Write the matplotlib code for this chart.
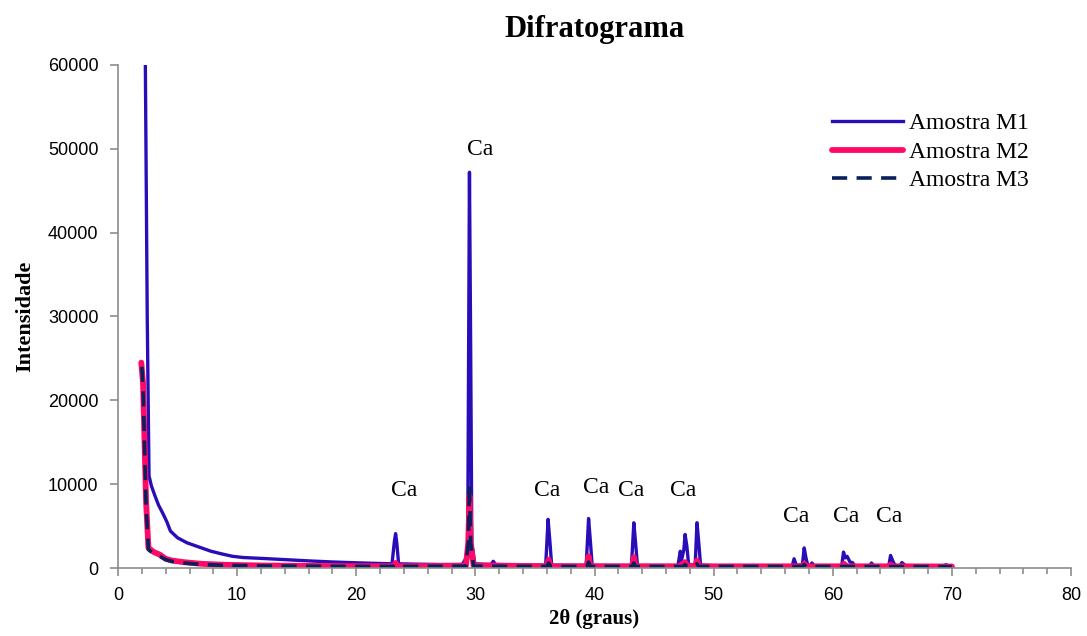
import matplotlib.pyplot as plt
from matplotlib.ticker import MultipleLocator

# Amostra M1
x_m1 = [2.25, 2.45, 2.6, 2.8, 3.1, 3.4, 3.8, 4.1, 4.4, 5.0, 5.8, 6.8, 7.8, 8.8, 9.6,
        10.5, 12, 14, 16, 18, 20, 22, 23.0, 23.2, 23.3, 23.4, 23.55, 25, 27, 28.9,
        29.35, 29.5, 29.6, 29.7, 29.95, 31.3, 31.5, 31.7, 33, 35.9, 36.1, 36.25, 36.4,
        39.3, 39.5, 39.65, 39.8, 43.1, 43.3, 43.45, 43.6, 47.0, 47.2, 47.3, 47.5,
        47.6, 47.75, 47.9, 48.45, 48.6, 48.75, 48.9, 50, 56.6, 56.75, 56.95, 57.45, 57.6,
        57.75, 57.9, 58.1, 58.25, 58.45, 60.75, 60.9, 61.05, 61.2, 61.45, 61.65, 61.85, 63.1,
        63.25, 63.45, 64.7, 64.85, 65.05, 65.25, 65.65, 65.8, 66.05, 66.25, 69.3, 69.5, 69.7,
        70.0]
y_m1 = [68000, 30000, 11000, 9800, 8600, 7500, 6400, 5500, 4400, 3600, 3000, 2500, 2000,
        1650, 1400, 1250, 1150, 1000, 850, 720, 620, 540, 500, 3200, 4100, 3000, 500, 460,
        420, 430, 1500, 47200, 26500, 3000, 500, 420, 800, 400, 360, 340, 5800, 3200, 340,
        320, 5900, 3200, 320, 300, 5400, 2900, 300, 290, 2000, 900, 2200, 4000, 2600, 400,
        350, 5400, 3000, 350, 280, 260, 1100, 300, 400, 2400, 1200, 300, 300, 600, 250,
        250, 1900, 1200, 1400, 700, 650, 250, 250, 600, 250, 250, 1500, 800, 250, 250,
        650, 350, 230, 220, 400, 220, 200]

# Amostra M2
x_m2 = [1.95, 2.1, 2.35, 2.55, 3.0, 3.5, 4.0, 4.5, 5.5, 7, 9, 12, 16, 20, 23.1, 23.3,
        23.5, 29.2, 29.4, 29.5, 29.6, 29.85, 31.5, 36.0, 36.15, 36.3, 39.35, 39.5, 39.65,
        43.15, 43.3, 43.45, 47.1, 47.6, 47.85, 48.45, 48.6, 48.75, 57.45, 57.6, 57.75,
        60.8, 60.95, 61.1, 64.75, 64.85, 65.0, 70.0]
y_m2 = [24500, 22000, 8000, 2400, 1900, 1600, 1100, 900, 700, 500, 380, 300, 250, 220,
        220, 600, 220, 260, 3000, 8600, 3000, 260, 300, 200, 1000, 200, 200, 1400, 200,
        200, 1300, 200, 200, 700, 200, 200, 900, 200, 200, 500, 200, 200, 500, 200, 200,
        400, 200, 180]

# Amostra M3
x_m3 = [2.0, 2.1, 2.35, 2.55, 3.0, 3.5, 4.0, 4.5, 5.5, 7, 9, 12, 16, 20, 23.1, 23.3,
        23.5, 29.2, 29.4, 29.5, 29.6, 29.85, 36.0, 36.15, 36.3, 39.35, 39.5, 39.65, 43.15,
        43.3, 43.45, 47.45, 47.6, 47.75, 48.45, 48.6, 48.75, 57.45, 57.6, 57.75, 70.0]
y_m3 = [24000, 21500, 7500, 2200, 1700, 1400, 1000, 800, 600, 420, 320, 250, 210, 190,
        190, 400, 190, 220, 3000, 10000, 3000, 220, 180, 600, 180, 180, 700, 180, 180,
        600, 180, 180, 400, 180, 180, 500, 180, 180, 400, 180, 160]

# rotulos "Ca"
ca_x = [24.0, 30.4, 36.0, 40.1, 43.1, 47.4, 56.9, 61.1, 64.7]
ca_y = [9300, 49900, 9300, 9550, 9300, 9300, 6200, 6200, 6200]

serif = ['Liberation Serif', 'DejaVu Serif']
sans = ['Liberation Sans', 'DejaVu Sans']

fig = plt.figure(figsize=(10.87, 6.36), dpi=100)
ax = fig.add_axes([0.1086, 0.1069, 0.8767, 0.791])

ax.plot(x_m1, y_m1, color='#2a0cb8', lw=2.4, label='Amostra M1')
ax.plot(x_m2, y_m2, color='#ff0a66', lw=4.2, label='Amostra M2', solid_capstyle='round')
ax.plot(x_m3, y_m3, color='#0b1f5e', lw=2.6, ls=(0, (4.2, 2.6)), label='Amostra M3')

for cx, cy in zip(ca_x, ca_y):
    ax.text(cx, cy, 'Ca', ha='center', va='center', fontsize=17, family=serif)

ax.set_xlim(0, 80)
ax.set_ylim(0, 60000)
ax.xaxis.set_major_locator(MultipleLocator(10))
ax.xaxis.set_minor_locator(MultipleLocator(2))
ax.yaxis.set_major_locator(MultipleLocator(10000))

for s in ['top', 'right']:
    ax.spines[s].set_visible(False)
for s in ['left', 'bottom']:
    ax.spines[s].set_color('#8c8c8c')
    ax.spines[s].set_linewidth(1.2)
ax.tick_params(which='both', direction='out', color='#8c8c8c', width=1.2)
ax.tick_params(which='major', length=6, labelsize=13, pad=8)
ax.tick_params(which='minor', length=4)
for lab in ax.get_xticklabels() + ax.get_yticklabels():
    lab.set_family(sans)

ax.set_title('Difratograma', fontsize=22, fontweight='bold', family=serif, pad=20)
ax.set_ylabel('Intensidade', fontsize=16, fontweight='bold', family=serif, labelpad=9)
ax.set_xlabel('2θ (graus)', fontsize=15, fontweight='bold', family=serif, labelpad=3)

ax.legend(loc='upper left', bbox_to_anchor=(0.749, 0.905), frameon=False,
          borderpad=0, borderaxespad=0, handlelength=3.0, handletextpad=0.25,
          labelspacing=0.3, prop={'family': serif, 'size': 17})

fig.savefig('out.png', dpi=100)
